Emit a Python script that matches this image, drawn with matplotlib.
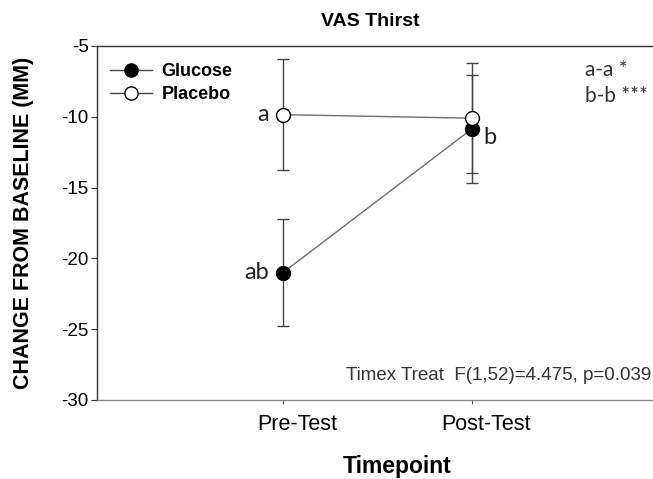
import matplotlib
matplotlib.use("Agg")
import matplotlib.pyplot as plt
import matplotlib.transforms as mtransforms
from matplotlib.lines import Line2D

timepoints = ["Pre-Test", "Post-Test"]
glucose_mean = [-21.0, -10.85]
glucose_err = [3.75, 3.8]
placebo_mean = [-9.85, -10.1]
placebo_err = [3.9, 3.9]
yticks = [-5, -10, -15, -20, -25, -30]

ARIAL = "Liberation Sans"
CAL = "Lato"

fig = plt.figure(figsize=(6.53, 4.79), dpi=100)
ax = fig.add_axes([97/653, 1-400/479, 1-97/653, (400-46)/479])

x = [1, 2]
ax.errorbar(x, placebo_mean, yerr=placebo_err, fmt='none', ecolor='#444444',
            elinewidth=1.0, capsize=4.5, capthick=1.0, zorder=2)
ax.errorbar(x, glucose_mean, yerr=glucose_err, fmt='none', ecolor='#444444',
            elinewidth=1.0, capsize=4.5, capthick=1.0, zorder=2)
ax.plot(x, glucose_mean, '-', color='#6e6e6e', lw=1.0, zorder=3)
ax.plot(x, placebo_mean, '-', color='#6e6e6e', lw=1.0, zorder=3)
ax.plot(x, glucose_mean, 'o', color='black', ms=10, zorder=4)
ax.plot(x, placebo_mean, 'o', mfc='white', mec='black', mew=1.0, ms=10, zorder=5)

h1 = Line2D([], [], color='#444444', lw=1.0, marker='o', mfc='black', mec='black', ms=9.5)
h2 = Line2D([], [], color='#444444', lw=1.0, marker='o', mfc='white', mec='black', ms=9.5)
leg = ax.legend([h1, h2], ["Glucose", "Placebo"], loc='upper left', frameon=False,
                prop={'family': ARIAL, 'weight': 'bold', 'size': 13},
                handlelength=2.3, handletextpad=0.55, labelspacing=0.35,
                bbox_to_anchor=(13/556, 1 - 17/354), borderaxespad=0, borderpad=0)

ax.set_xlim(1 - (283-97)/189, 2 + (653-472)/189)
ax.set_ylim(-30, -5)
ax.set_xticks(x)
ax.set_xticklabels(timepoints, fontfamily=ARIAL, fontsize=15.5)
ax.set_yticks(yticks)
ax.set_yticklabels([str(v) for v in yticks], fontfamily=ARIAL, fontsize=13.5)
ax.tick_params(axis='y', direction='out', length=4, width=0.8, color='#333333', pad=2)
ax.tick_params(axis='x', direction='out', length=3, width=0.8, color='#555555', pad=7)
offset = mtransforms.ScaledTranslation(14/100, 0, fig.dpi_scale_trans)
for lbl in ax.get_xticklabels():
    lbl.set_transform(lbl.get_transform() + offset)

ax.spines['right'].set_visible(False)
ax.spines['top'].set_color('#333333')
ax.spines['left'].set_color('#333333')
ax.spines['bottom'].set_color('#888888')
for s in ax.spines.values():
    s.set_linewidth(1.0)

fig.text(370/653, 1-21/479, "VAS Thirst", fontfamily=ARIAL, fontweight='bold', fontsize=14,
         ha='center', va='center')
fig.text(397/653, 1-466/479, "Timepoint", fontfamily=ARIAL, fontweight='bold', fontsize=16.5,
         ha='center', va='center')
fig.text(24/653, 1-223/479, "CHANGE FROM BASELINE (MM)", fontfamily=ARIAL, fontweight='bold',
         fontsize=15.5, rotation=90, ha='center', va='center')

ax.annotate("a", (1, placebo_mean[0]), xytext=(-10, 0), textcoords='offset points',
            ha='right', va='center', fontfamily=CAL, fontsize=17, color='#222222')
ax.annotate("ab", (1, glucose_mean[0]), xytext=(-10, 0), textcoords='offset points',
            ha='right', va='center', fontfamily=CAL, fontsize=17, color='#222222')
ax.annotate("b", (2, glucose_mean[1]), xytext=(8, -6), textcoords='offset points',
            ha='left', va='center', fontfamily=CAL, fontsize=17, color='#222222')

fig.text(585/653, 1-70/479, "a-a *", fontfamily=CAL, fontsize=15, color='#333333', va='center', ha='left')
fig.text(585/653, 1-96/479, "b-b ***", fontfamily=CAL, fontsize=15, color='#333333', va='center', ha='left')
fig.text(651/653, 1-375/479, "Timex Treat  F(1,52)=4.475, p=0.039", fontfamily=ARIAL, fontsize=13.5,
         color='#333333', va='center', ha='right')

fig.savefig("out.png", dpi=100)
